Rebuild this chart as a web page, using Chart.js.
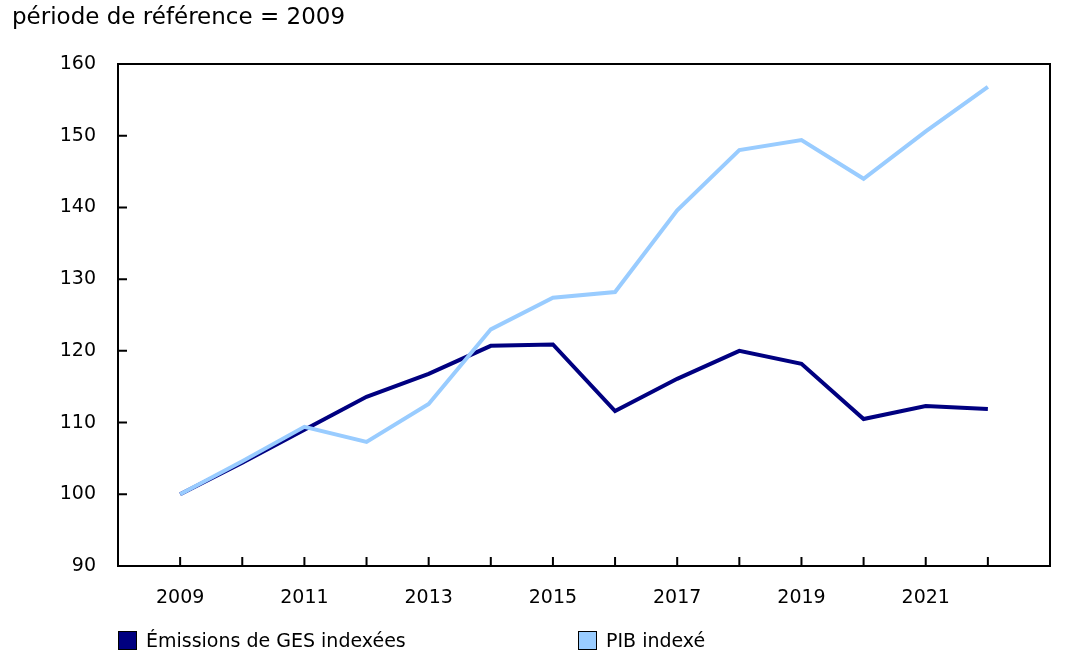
<!DOCTYPE html>
<html lang="fr">
<head>
<meta charset="utf-8">
<title>Émissions de GES et PIB indexés</title>
<script src="https://cdn.jsdelivr.net/npm/chart.js@4.4.1/dist/chart.umd.min.js"></script>
<style>
  body { margin: 0; background: #fff; font-family: "DejaVu Sans", Verdana, sans-serif; }
  .wrap { position: relative; width: 1091px; height: 665px; }
  .unit { position: absolute; left: 12px; top: 3px; font-size: 23px; color: #000; }
  .legendItem { position: absolute; top: 629px; font-size: 19px; color: #000; display: flex; align-items: center; }
  .legendItem span { display: inline-block; width: 17px; height: 17px; border: 1px solid #000; margin-right: 9px; }
  canvas { position: absolute; left: 0; top: 0; }
</style>
</head>
<body>
<div class="wrap">
  <canvas id="myChart" width="1091" height="665"></canvas>
  <div class="unit">période de référence = 2009</div>
  <div class="legendItem" style="left:118px"><span style="background:#000080"></span>Émissions de GES indexées</div>
  <div class="legendItem" style="left:578px"><span style="background:#99ccff"></span>PIB indexé</div>
</div>
<script>
// data
const years = [2009, 2010, 2011, 2012, 2013, 2014, 2015, 2016, 2017, 2018, 2019, 2020, 2021, 2022];
const emissions = [100, 104.4, 109.0, 113.6, 116.8, 120.7, 120.9, 111.6, 116.1, 120.0, 118.2, 110.5, 112.3, 111.9];
const gdp = [100, 104.6, 109.4, 107.3, 112.6, 123.0, 127.4, 128.2, 139.6, 148.0, 149.4, 144.0, 150.6, 156.8];
const yTicks = [90, 100, 110, 120, 130, 140, 150, 160];
const xLabels = [2009, 2011, 2013, 2015, 2017, 2019, 2021];

// box round the plot and small ticks pointing inward
const frame = {
  id: 'frame',
  afterDraw(chart) {
    const { ctx, chartArea: a, scales } = chart;
    ctx.save();
    ctx.strokeStyle = '#000';
    ctx.lineWidth = 2;
    ctx.strokeRect(a.left, a.top, a.right - a.left, a.bottom - a.top);
    ctx.beginPath();
    yTicks.forEach(v => {
      const y = scales.y.getPixelForValue(v);
      ctx.moveTo(a.left, y);
      ctx.lineTo(a.left + 9, y);
    });
    years.forEach(v => {
      const x = scales.x.getPixelForValue(v);
      ctx.moveTo(x, a.bottom);
      ctx.lineTo(x, a.bottom - 9);
    });
    ctx.stroke();
    ctx.restore();
  }
};

const data = {
  datasets: [{
    label: 'Émissions de GES indexées',
    data: years.map((y, i) => ({ x: y, y: emissions[i] })),
    borderColor: '#000080',
    borderWidth: 4,
    pointRadius: 0,
    order: 1
  }, {
    label: 'PIB indexé',
    data: years.map((y, i) => ({ x: y, y: gdp[i] })),
    borderColor: '#99ccff',
    borderWidth: 4,
    pointRadius: 0,
    order: 0
  }]
};

const config = {
  type: 'line',
  data,
  plugins: [frame],
  options: {
    responsive: false,
    animation: false,
    layout: { padding: { top: 64, right: 41, bottom: 49, left: 0 } },
    plugins: {
      legend: { display: false },
      tooltip: { enabled: false }
    },
    scales: {
      x: {
        type: 'linear',
        min: 2008,
        max: 2023,
        grid: { display: false },
        border: { display: false },
        afterFit: s => { s.height = 50; },
        afterBuildTicks: s => { s.ticks = xLabels.map(v => ({ value: v })); },
        ticks: {
          padding: 13,
          maxRotation: 0,
          autoSkip: false,
          color: '#000',
          font: { family: 'DejaVu Sans', size: 19 },
          callback: v => String(v)
        }
      },
      y: {
        min: 90,
        max: 160,
        grid: { display: false },
        border: { display: false },
        afterFit: s => { s.width = 118; },
        afterBuildTicks: s => { s.ticks = yTicks.map(v => ({ value: v })); },
        ticks: {
          padding: 14,
          color: '#000',
          font: { family: 'DejaVu Sans', size: 19 }
        }
      }
    }
  }
};

const myChart = new Chart(document.getElementById('myChart'), config);
</script>
</body>
</html>
